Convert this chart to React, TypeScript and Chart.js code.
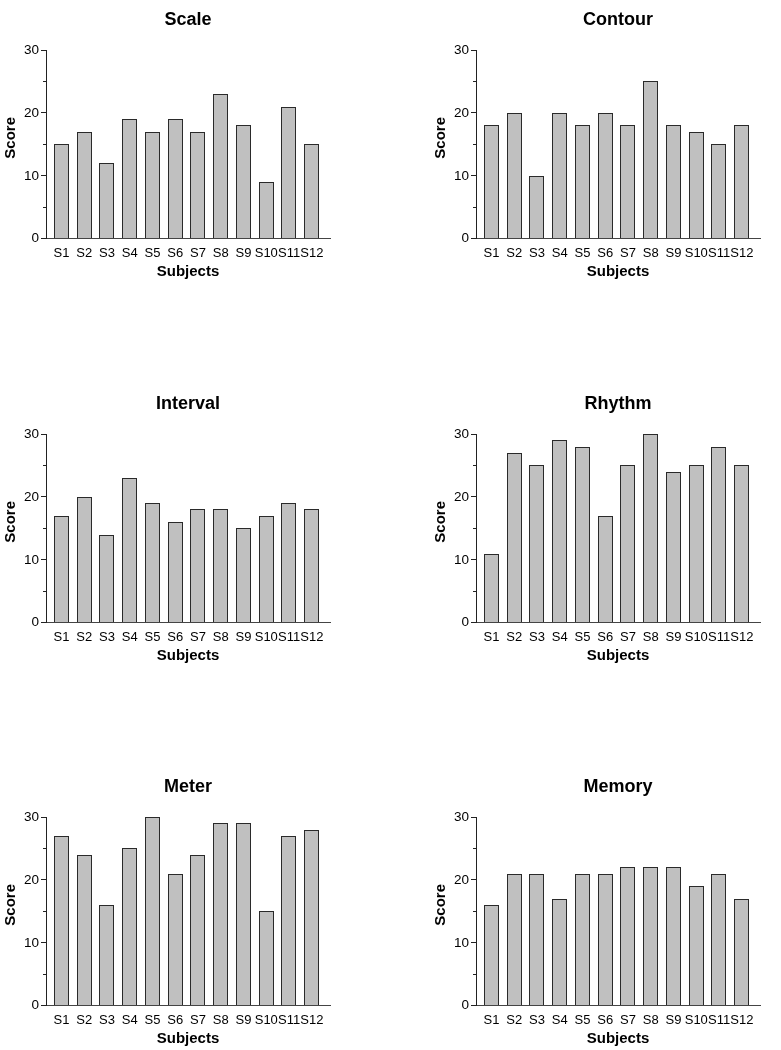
import React, { useEffect, useRef } from "react";
import { Chart, registerables } from "chart.js";

Chart.register(...registerables);

// ---- data ----
const subjects = ["S1", "S2", "S3", "S4", "S5", "S6", "S7", "S8", "S9", "S10", "S11", "S12"];
const scaleScores = [15, 17, 12, 19, 17, 19, 17, 23, 18, 9, 21, 15];
const contourScores = [18, 20, 10, 20, 18, 20, 18, 25, 18, 17, 15, 18];
const intervalScores = [17, 20, 14, 23, 19, 16, 18, 18, 15, 17, 19, 18];
const rhythmScores = [11, 27, 25, 29, 28, 17, 25, 30, 24, 25, 28, 25];
const meterScores = [27, 24, 16, 25, 30, 21, 24, 29, 29, 15, 27, 28];
const memoryScores = [16, 21, 21, 17, 21, 21, 22, 22, 22, 19, 21, 17];
const panelTitles = ["Scale", "Contour", "Interval", "Rhythm", "Meter", "Memory"];
const panelValues = [scaleScores, contourScores, intervalScores, rhythmScores, meterScores, memoryScores];
const yMin = 0;
const yMax = 30;
const yStep = 10;
const xTitle = "Subjects";
const yTitle = "Score";

const FONT = "'Liberation Sans', Arial, Helvetica, sans-serif";
Chart.defaults.font.family = FONT;
Chart.defaults.color = "#000";

const CANVAS_W = 340;
const CANVAS_H = 283;
const colX = [0, 430];
const rowY = [0, 383.5, 766.5];

const minorTicksPlugin = {
  id: "minorTicks",
  afterDraw(chart: any) {
    const y = chart.scales.y;
    const ctx = chart.ctx;
    const ticks = y.ticks;
    ctx.save();
    ctx.strokeStyle = "#222";
    ctx.lineWidth = 1;
    for (let i = 0; i < ticks.length - 1; i++) {
      const v = (ticks[i].value + ticks[i + 1].value) / 2;
      const py = Math.round(y.getPixelForValue(v)) + 0.5;
      ctx.beginPath();
      ctx.moveTo(y.right - 3, py);
      ctx.lineTo(y.right, py);
      ctx.stroke();
    }
    ctx.restore();
  },
};

// y-axis title, drawn slightly above the axis centre as in the reference
const yTitlePlugin = {
  id: "yTitleText",
  afterDraw(chart: any) {
    const ca = chart.chartArea;
    const ctx = chart.ctx;
    ctx.save();
    ctx.translate(11, (ca.top + ca.bottom) / 2 - 6.5);
    ctx.rotate(-Math.PI / 2);
    ctx.font = `bold 15px ${FONT}`;
    ctx.fillStyle = "#000";
    ctx.textAlign = "center";
    ctx.textBaseline = "middle";
    ctx.fillText(yTitle, 0, 0);
    ctx.restore();
  },
};

// snap bar edges to whole pixels so the 1px outlines stay crisp
const crispBarsPlugin = {
  id: "crispBars",
  beforeDatasetsDraw(chart: any) {
    chart.getSortedVisibleDatasetMetas().forEach((meta: any) => {
      meta.data.forEach((el: any) => {
        const w = Math.round(el.width);
        const l = Math.round(el.x - el.width / 2);
        el.width = w;
        el.x = l + w / 2;
        el.y = Math.round(el.y);
        el.base = Math.round(el.base);
      });
    });
  },
};

function Panel({ title, values, left, top }: { title: string; values: number[]; left: number; top: number }) {
  const ref = useRef<HTMLCanvasElement | null>(null);
  useEffect(() => {
    if (!ref.current) return;
    const chart = new Chart(ref.current, {
      type: "bar",
      data: {
        datasets: [
          {
            data: values.map((v, i) => ({ x: i, y: v })),
            backgroundColor: "#c0c0c0",
            borderColor: "#2a2a2a",
            borderWidth: 1,
            inflateAmount: 0,
            barPercentage: 0.67,
            categoryPercentage: 1,
          },
        ],
      },
      options: {
        animation: false,
        responsive: false,
        events: [],
        layout: { padding: { left: 0, right: CANVAS_W - 330, top: 0, bottom: 0 } },
        plugins: {
          legend: { display: false },
          tooltip: { enabled: false },
          title: {
            display: true,
            text: title,
            fullSize: false,
            color: "#000",
            font: { size: 18, weight: "bold", family: FONT, lineHeight: 1.2 },
            padding: { top: 9.2, bottom: 19.2 },
          },
        },
        scales: {
          x: {
            type: "linear",
            offset: false,
            min: -0.68,
            max: subjects.length - 1 + 0.8,
            afterBuildTicks: (s: any) => {
              s.ticks = subjects.map((_, i) => ({ value: i }));
            },
            afterFit: (s: any) => {
              s.height = CANVAS_H - 238.7;
            },
            grid: { display: false, drawTicks: false },
            border: { display: true, color: "#444", width: 1 },
            ticks: {
              autoSkip: false,
              maxRotation: 0,
              minRotation: 0,
              padding: 7,
              color: "#000",
              font: { size: 13, family: FONT },
              callback: (v: any) => subjects[v] ?? "",
            },
            title: {
              display: true,
              text: xTitle,
              color: "#000",
              font: { size: 15, weight: "bold", family: FONT, lineHeight: 1.2 },
              padding: { top: 0, bottom: 2.3 },
            },
          },
          y: {
            type: "linear",
            min: yMin,
            max: yMax,
            afterFit: (s: any) => {
              s.width = 46;
            },
            grid: { drawOnChartArea: false, drawTicks: true, tickLength: 5, color: "#222" },
            border: { display: true, color: "#222", width: 1 },
            ticks: {
              stepSize: yStep,
              padding: 2,
              color: "#000",
              font: { size: 13.5, family: FONT },
            },
            title: { display: false },
          },
        },
      },
      plugins: [crispBarsPlugin, minorTicksPlugin, yTitlePlugin],
    } as any);
    return () => chart.destroy();
  }, [title, values]);
  return (
    <div style={{ position: "absolute", left, top, width: CANVAS_W, height: CANVAS_H }}>
      <canvas ref={ref} width={CANVAS_W} height={CANVAS_H} style={{ display: "block" }} />
    </div>
  );
}

export default function App() {
  return (
    <div style={{ position: "absolute", left: 0, top: 0, width: 781, height: 1050, background: "#fff", overflow: "hidden" }}>
      {panelTitles.map((t, i) => (
        <Panel key={t} title={t} values={panelValues[i]} left={colX[i % 2]} top={rowY[Math.floor(i / 2)]} />
      ))}
    </div>
  );
}
